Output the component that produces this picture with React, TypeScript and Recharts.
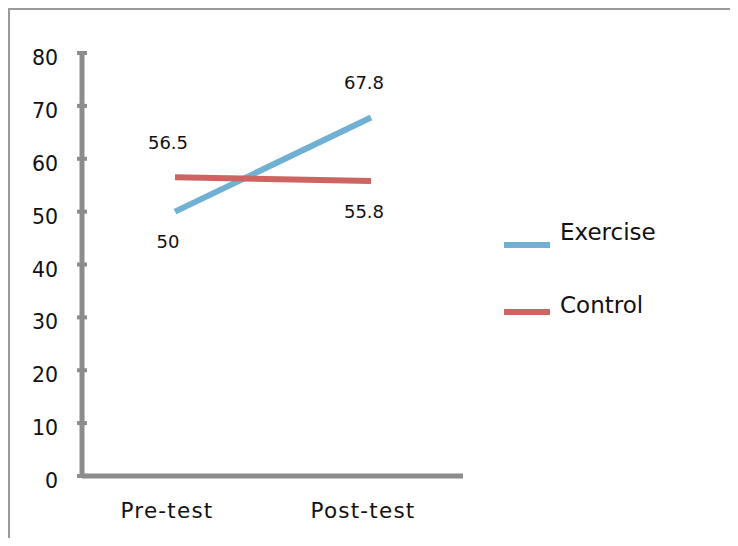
import { Legend, Line, LineChart, XAxis, YAxis } from "recharts";

const categories = ["Pre-test", "Post-test"];
const exerciseScores = [50, 67.8];
const controlScores = [56.5, 55.8];
const yTicks = [0, 10, 20, 30, 40, 50, 60, 70, 80];
const seriesOrder = ["Exercise", "Control"];

const FONT = "'DejaVu Sans', sans-serif";
const AXIS = "#8c8c8c";
const BLUE = "#70b1d3";
const RED = "#cd6462";

const data = categories.map((name, i) => ({
  name,
  Exercise: exerciseScores[i],
  Control: controlScores[i],
}));

function YTick(props: any) {
  const { x, y, payload } = props;
  const ax = x + 24;
  return (
    <g>
      <line x1={ax - 5} x2={ax + 5} y1={y} y2={y} stroke={AXIS} strokeWidth={4} />
      <text x={x} y={y + 5} textAnchor="end" dominantBaseline="central" fontSize={20.5} fill="#111" fontFamily={FONT}>
        {payload.value}
      </text>
    </g>
  );
}

function XTick(props: any) {
  const { x, y, payload } = props;
  return (
    <text
      x={x - 8}
      y={y}
      textAnchor="middle"
      dominantBaseline="central"
      fontSize={21.5}
      letterSpacing={1.2}
      fill="#111"
      fontFamily={FONT}
    >
      {payload.value}
    </text>
  );
}

// negative offset = above the point, positive = below
function makeLabel(offsets: number[]) {
  return (props: any) => {
    const { x, y, value, index } = props;
    return (
      <text x={x - 7} y={y + offsets[index]} textAnchor="middle" dominantBaseline="central" fontSize={18} fill="#111" fontFamily={FONT}>
        {value}
      </text>
    );
  };
}

function LegendContent(props: any) {
  const items = [...(props.payload || [])].sort(
    (a: any, b: any) => seriesOrder.indexOf(a.value) - seriesOrder.indexOf(b.value)
  );
  return (
    <svg width={220} height={130} style={{ overflow: "visible" }}>
      {items.map((item: any, i: number) => (
        <g key={item.value} transform={`translate(0, ${i * 67})`}>
          <line x1={0} x2={46} y1={35} y2={35} stroke={item.color} strokeWidth={6} />
          <text x={56} y={22 + i * 6} dominantBaseline="central" fontSize={23} fill="#111" fontFamily={FONT}>
            {item.value}
          </text>
        </g>
      ))}
    </svg>
  );
}

export default function App() {
  return (
    <div
      style={{
        width: 728,
        height: 536,
        marginBottom: -8,
        borderTop: "2px solid #9a9a9a",
        borderLeft: "2px solid #9a9a9a",
        fontFamily: FONT,
      }}
    >
      <LineChart width={728} height={528} data={data} margin={{ top: 43, right: 275, bottom: 0, left: 0 }}>
        <XAxis
          dataKey="name"
          scale="point"
          padding={{ left: 93, right: 92 }}
          height={62}
          axisLine={{ stroke: AXIS, strokeWidth: 5 }}
          tickLine={false}
          tickSize={0}
          tickMargin={34}
          tick={<XTick />}
        />
        <YAxis
          width={72}
          domain={[0, 80]}
          ticks={yTicks}
          interval={0}
          axisLine={{ stroke: AXIS, strokeWidth: 5 }}
          tickLine={false}
          tickSize={0}
          tickMargin={24}
          tick={<YTick />}
        />
        <Legend
          layout="horizontal"
          align="center"
          verticalAlign="middle"
          content={<LegendContent />}
          wrapperStyle={{ left: 494, top: 200, width: 220, height: 130 }}
        />
        <Line
          dataKey="Exercise"
          stroke={BLUE}
          strokeWidth={6}
          dot={false}
          isAnimationActive={false}
          label={makeLabel([30, -35])}
        />
        <Line
          dataKey="Control"
          stroke={RED}
          strokeWidth={6}
          dot={false}
          isAnimationActive={false}
          label={makeLabel([-35, 31])}
        />
      </LineChart>
    </div>
  );
}
